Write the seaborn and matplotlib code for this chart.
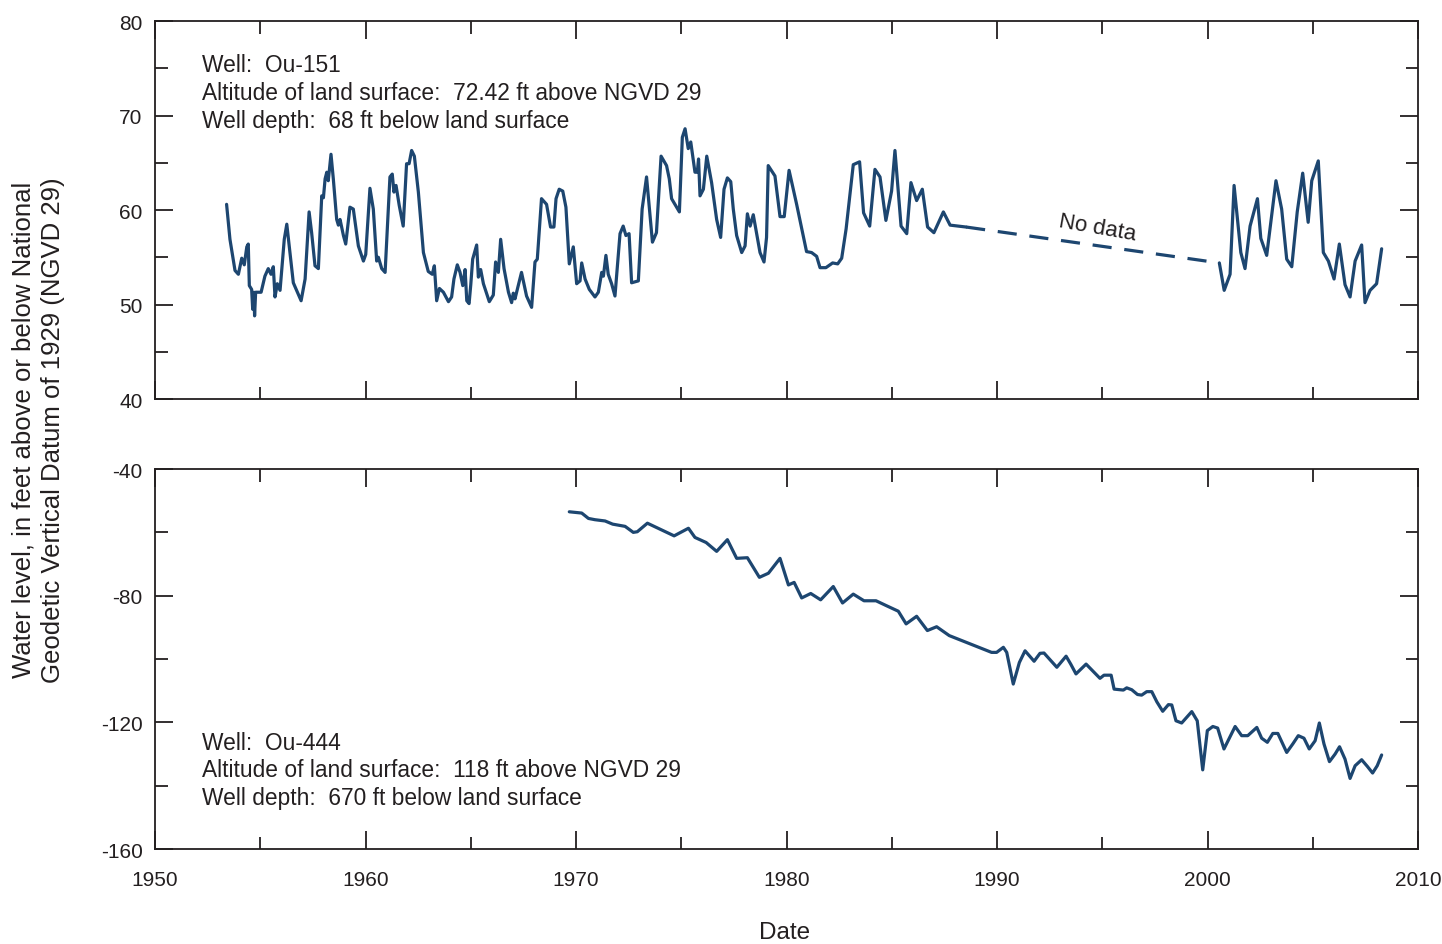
import numpy as np
import pandas as pd
import matplotlib
matplotlib.use("Agg")
import matplotlib.pyplot as plt
import seaborn as sns
from matplotlib.ticker import MultipleLocator

# Well Ou-151, before the data gap
ou151_years_a = [
    1953.40, 1953.56, 1953.80, 1953.96, 1954.12, 1954.24, 1954.36, 1954.43, 1954.48, 1954.59,
    1954.64, 1954.70, 1954.73, 1954.78, 1955.04, 1955.22, 1955.38, 1955.51, 1955.62, 1955.70,
    1955.81, 1955.94, 1956.14, 1956.26, 1956.57, 1956.94, 1957.13, 1957.32, 1957.44, 1957.60,
    1957.76, 1957.92, 1958.00, 1958.08, 1958.16, 1958.23, 1958.36, 1958.47, 1958.63, 1958.71,
    1958.79, 1958.95, 1959.06, 1959.26, 1959.42, 1959.66, 1959.90, 1960.01, 1960.21, 1960.37,
    1960.53, 1960.61, 1960.77, 1960.93, 1961.16, 1961.27, 1961.35, 1961.45, 1961.60, 1961.79,
    1961.95, 1962.07, 1962.19, 1962.32, 1962.51, 1962.75, 1962.98, 1963.17, 1963.27, 1963.38,
    1963.51, 1963.70, 1963.94, 1964.09, 1964.20, 1964.36, 1964.49, 1964.62, 1964.73, 1964.81,
    1964.92, 1965.00, 1965.09, 1965.28, 1965.36, 1965.47, 1965.60, 1965.88, 1966.07, 1966.18,
    1966.31, 1966.42, 1966.58, 1966.79, 1966.94, 1967.02, 1967.10, 1967.41, 1967.65, 1967.89,
    1968.05, 1968.16, 1968.36, 1968.60, 1968.79, 1968.95, 1969.05, 1969.20, 1969.37, 1969.52,
    1969.68, 1969.87, 1970.03, 1970.19, 1970.27, 1970.43, 1970.63, 1970.90, 1971.06, 1971.22,
    1971.30, 1971.42, 1971.53, 1971.69, 1971.85, 1972.09, 1972.24, 1972.37, 1972.52, 1972.64,
    1972.96, 1973.14, 1973.35, 1973.63, 1973.82, 1974.04, 1974.30, 1974.43, 1974.54, 1974.75,
    1974.91, 1975.05, 1975.18, 1975.33, 1975.45, 1975.65, 1975.76, 1975.82, 1975.89, 1976.05,
    1976.21, 1976.44, 1976.68, 1976.87, 1977.03, 1977.19, 1977.35, 1977.47, 1977.63, 1977.87,
    1978.03, 1978.14, 1978.27, 1978.42, 1978.74, 1978.93, 1979.05, 1979.13, 1979.45, 1979.69,
    1979.89, 1980.12, 1980.48, 1980.95, 1981.19, 1981.43, 1981.59, 1981.87, 1982.19, 1982.43,
    1982.62, 1982.83, 1983.17, 1983.47, 1983.66, 1983.95, 1984.20, 1984.44, 1984.72, 1984.99,
    1985.15, 1985.44, 1985.71, 1985.91, 1986.18, 1986.45, 1986.70, 1987.00, 1987.45, 1987.77,
    1988.53,
]
ou151_level_a = [
    60.6, 56.9, 53.6, 53.2, 54.9, 54.2, 56.1, 56.4, 52.0, 51.6,
    49.5, 51.3, 48.8, 51.3, 51.3, 53.0, 53.8, 53.2, 54.0, 50.8,
    52.2, 51.5, 56.9, 58.5, 52.3, 50.4, 52.7, 59.8, 57.6, 54.1,
    53.8, 61.5, 61.3, 63.3, 64.0, 63.1, 65.9, 63.3, 59.0, 58.4,
    59.0, 57.3, 56.4, 60.3, 60.1, 56.2, 54.6, 55.3, 62.3, 60.1,
    54.6, 55.0, 53.8, 53.4, 63.5, 63.8, 61.9, 62.6, 60.5, 58.3,
    64.9, 64.9, 66.3, 65.7, 61.9, 55.5, 53.5, 53.2, 54.1, 50.4,
    51.7, 51.3, 50.3, 50.8, 52.7, 54.2, 53.4, 52.0, 53.7, 50.4,
    50.1, 52.1, 54.8, 56.3, 52.9, 53.7, 52.2, 50.3, 51.0, 54.5,
    53.4, 56.9, 53.8, 51.3, 50.2, 51.2, 50.6, 53.4, 50.9, 49.7,
    54.5, 54.8, 61.2, 60.6, 58.2, 58.2, 61.2, 62.2, 62.0, 60.3,
    54.3, 56.1, 52.2, 52.5, 54.4, 52.7, 51.6, 50.8, 51.3, 53.4,
    53.0, 55.2, 53.2, 52.2, 50.9, 57.5, 58.3, 57.3, 57.5, 52.3,
    52.5, 60.1, 63.5, 56.6, 57.6, 65.7, 64.7, 63.3, 61.2, 60.4,
    59.8, 67.7, 68.6, 66.5, 67.2, 64.0, 64.0, 65.4, 61.5, 62.2,
    65.7, 62.9, 59.0, 57.1, 62.2, 63.4, 63.0, 60.1, 57.3, 55.5,
    56.2, 59.6, 58.3, 59.5, 55.5, 54.5, 57.1, 64.7, 63.6, 59.3,
    59.3, 64.2, 60.6, 55.6, 55.5, 55.1, 53.9, 53.9, 54.4, 54.3,
    54.9, 58.0, 64.8, 65.1, 59.7, 58.3, 64.3, 63.5, 58.9, 62.0,
    66.3, 58.3, 57.5, 62.9, 61.0, 62.2, 58.2, 57.6, 59.8, 58.4,
    58.2,
]

# Well Ou-151, after the data gap
ou151_years_b = [
    2000.56, 2000.79, 2001.07, 2001.26, 2001.58, 2001.78, 2002.02, 2002.37, 2002.53, 2002.81,
    2003.25, 2003.52, 2003.76, 2004.00, 2004.26, 2004.52, 2004.78, 2004.95, 2005.26, 2005.50,
    2005.74, 2006.01, 2006.26, 2006.53, 2006.77, 2007.01, 2007.32, 2007.48, 2007.72, 2008.03,
    2008.27,
]
ou151_level_b = [
    54.4, 51.5, 53.2, 62.6, 55.5, 53.8, 58.3, 61.2, 57.0, 55.2,
    63.1, 60.1, 54.8, 54.0, 59.8, 63.9, 58.7, 63.1, 65.2, 55.5,
    54.6, 52.7, 56.4, 52.1, 50.8, 54.6, 56.3, 50.2, 51.5, 52.2,
    55.9,
]

# Well Ou-444
ou444_years = [
    1969.68, 1970.27, 1970.59, 1970.90, 1971.38, 1971.74, 1972.33, 1972.72, 1972.91, 1973.39,
    1974.66, 1975.34, 1975.65, 1976.18, 1976.68, 1977.19, 1977.63, 1978.14, 1978.71, 1979.14,
    1979.69, 1980.09, 1980.36, 1980.72, 1981.15, 1981.62, 1982.22, 1982.66, 1983.17, 1983.68,
    1984.25, 1984.76, 1985.31, 1985.68, 1986.18, 1986.69, 1987.13, 1987.73, 1989.74, 1989.98,
    1990.30, 1990.46, 1990.77, 1991.06, 1991.33, 1991.76, 1992.04, 1992.23, 1992.84, 1993.28,
    1993.50, 1993.75, 1994.23, 1994.89, 1995.08, 1995.42, 1995.56, 1996.00, 1996.16, 1996.40,
    1996.67, 1996.87, 1997.11, 1997.35, 1997.59, 1997.87, 1998.14, 1998.30, 1998.50, 1998.77,
    1999.25, 1999.51, 1999.77, 1999.99, 2000.25, 2000.48, 2000.78, 2001.31, 2001.62, 2001.91,
    2002.34, 2002.57, 2002.84, 2003.10, 2003.34, 2003.76, 2004.05, 2004.31, 2004.58, 2004.83,
    2005.11, 2005.31, 2005.53, 2005.79, 2006.06, 2006.27, 2006.53, 2006.77, 2007.01, 2007.32,
    2007.59, 2007.84, 2008.06, 2008.27,
]
ou444_level = [
    -53.5, -53.9, -55.6, -56.0, -56.4, -57.4, -58.1, -60.0, -59.8, -57.1,
    -61.1, -58.7, -61.6, -63.2, -66.0, -62.3, -68.2, -68.0, -74.2, -72.9,
    -68.2, -76.6, -75.8, -80.7, -79.3, -81.3, -77.1, -82.3, -79.5, -81.6,
    -81.6, -83.2, -84.9, -88.9, -86.5, -91.0, -89.8, -92.6, -97.9, -97.9,
    -96.3, -97.9, -107.9, -101.1, -97.4, -100.7, -98.2, -98.1, -102.6, -99.1,
    -101.6, -104.7, -101.6, -106.1, -105.1, -105.1, -109.5, -109.8, -109.1, -109.7,
    -111.2, -111.4, -110.3, -110.3, -113.5, -116.5, -114.4, -114.5, -119.5, -120.2,
    -116.6, -119.5, -135.0, -122.6, -121.3, -121.8, -128.4, -121.3, -124.2, -124.2,
    -121.6, -125.0, -126.3, -123.5, -123.5, -129.5, -126.8, -124.2, -125.0, -128.4,
    -125.8, -120.2, -126.8, -132.4, -130.0, -127.7, -131.6, -137.7, -133.7, -131.8,
    -133.9, -136.0, -133.7, -130.3,
]

well_notes = {
    "Ou-151": "Well:  Ou-151\nAltitude of land surface:  72.42 ft above NGVD 29\nWell depth:  68 ft below land surface",
    "Ou-444": "Well:  Ou-444\nAltitude of land surface:  118 ft above NGVD 29\nWell depth:  670 ft below land surface",
}

line_color = "#1d4670"
ink = "#231f20"

sns.set_style("ticks")
plt.rcParams["font.family"] = ["Liberation Sans", "DejaVu Sans"]
plt.rcParams["axes.unicode_minus"] = False

df_a = pd.DataFrame({"year": ou151_years_a, "level": ou151_level_a})
df_b = pd.DataFrame({"year": ou151_years_b, "level": ou151_level_b})
df_gap = pd.DataFrame({"year": [ou151_years_a[-1], ou151_years_b[0]],
                       "level": [ou151_level_a[-1], ou151_level_b[0]]})
df_444 = pd.DataFrame({"year": ou444_years, "level": ou444_level})

fig = plt.figure(figsize=(14.42, 9.45), dpi=100)
ax1 = fig.add_axes([0.1075, 0.5767, 0.8759, 0.4000])
ax2 = fig.add_axes([0.1075, 0.1005, 0.8759, 0.4021])

for d in (df_a, df_b):
    sns.lineplot(data=d, x="year", y="level", ax=ax1, color=line_color,
                 linewidth=2.3, estimator=None, sort=False)
ax1.plot(df_gap["year"], df_gap["level"], color=line_color, linewidth=2.3,
         linestyle=(0, (6, 4)))
sns.lineplot(data=df_444, x="year", y="level", ax=ax2, color=line_color,
             linewidth=2.3, estimator=None, sort=False)

ax1.set_ylim(40, 80)
ax1.yaxis.set_major_locator(MultipleLocator(10))
ax1.yaxis.set_minor_locator(MultipleLocator(5))
ax2.set_ylim(-160, -40)
ax2.yaxis.set_major_locator(MultipleLocator(40))
ax2.yaxis.set_minor_locator(MultipleLocator(20))

for ax in (ax1, ax2):
    ax.set_xlim(1950, 2010)
    ax.xaxis.set_major_locator(MultipleLocator(10))
    ax.xaxis.set_minor_locator(MultipleLocator(5))
    ax.set_xlabel("")
    ax.set_ylabel("")
    for s in ax.spines.values():
        s.set_visible(True)
        s.set_color(ink)
        s.set_linewidth(1.3)
    ax.tick_params(which="both", direction="in", top=True, right=True,
                   color=ink, width=1.3, labelsize=15, labelcolor=ink)
    ax.tick_params(which="major", length=13)
    ax.tick_params(which="minor", length=9)
    ax.tick_params(axis="y", which="major", pad=9)
    ax.tick_params(axis="x", which="major", pad=15)

ax1.tick_params(axis="x", labelbottom=False)

ax1.text(0.0372, 0.810, well_notes["Ou-151"], transform=ax1.transAxes,
         fontsize=16.4, color=ink, va="center", ha="left", linespacing=1.27)
ax2.text(0.0372, 0.208, well_notes["Ou-444"], transform=ax2.transAxes,
         fontsize=16.4, color=ink, va="center", ha="left", linespacing=1.27)
ax1.text(1994.75, 58.2, "No data", fontsize=16, color=ink,
         rotation=-10, ha="center", va="center", rotation_mode="anchor")

fig.text(0.0265, 0.545,
         "Water level, in feet above or below National\nGeodetic Vertical Datum of 1929 (NGVD 29)",
         rotation=90, ha="center", va="center", fontsize=18.5,
         color=ink, linespacing=1.25)
fig.text(0.5444, 0.013, "Date", ha="center", va="center",
         fontsize=17.5, color=ink)

fig.savefig("out.png", dpi=100)
